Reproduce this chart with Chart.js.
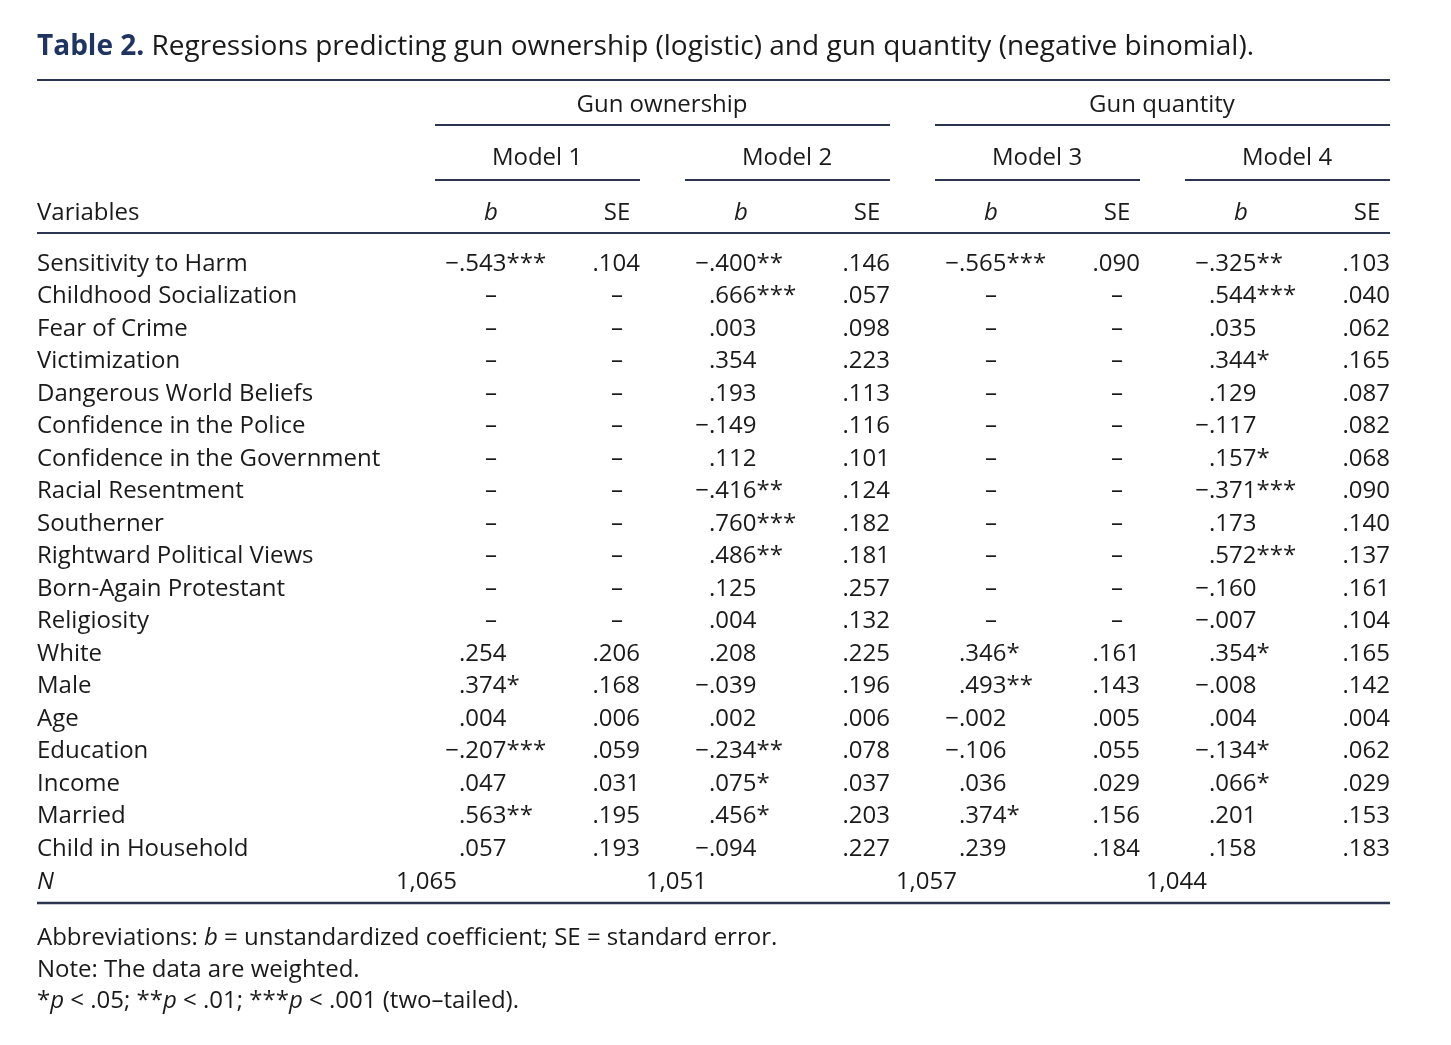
<!DOCTYPE html>
<html><head><meta charset="utf-8">
<script src="https://cdn.jsdelivr.net/npm/chart.js@4"></script>
<style>body{margin:0;background:#fff}canvas{display:block}</style>
</head><body>
<canvas id="c" width="1451" height="1045"></canvas>
<script>
// Table data
var variables = ['Sensitivity to Harm','Childhood Socialization','Fear of Crime','Victimization','Dangerous World Beliefs','Confidence in the Police','Confidence in the Government','Racial Resentment','Southerner','Rightward Political Views','Born-Again Protestant','Religiosity','White','Male','Age','Education','Income','Married','Child in Household'];
var m1b  = ['−.543***','–','–','–','–','–','–','–','–','–','–','–','.254','.374*','.004','−.207***','.047','.563**','.057'];
var m1se = ['.104','–','–','–','–','–','–','–','–','–','–','–','.206','.168','.006','.059','.031','.195','.193'];
var m2b  = ['−.400**','.666***','.003','.354','.193','−.149','.112','−.416**','.760***','.486**','.125','.004','.208','−.039','.002','−.234**','.075*','.456*','−.094'];
var m2se = ['.146','.057','.098','.223','.113','.116','.101','.124','.182','.181','.257','.132','.225','.196','.006','.078','.037','.203','.227'];
var m3b  = ['−.565***','–','–','–','–','–','–','–','–','–','–','–','.346*','.493**','−.002','−.106','.036','.374*','.239'];
var m3se = ['.090','–','–','–','–','–','–','–','–','–','–','–','.161','.143','.005','.055','.029','.156','.184'];
var m4b  = ['−.325**','.544***','.035','.344*','.129','−.117','.157*','−.371***','.173','.572***','−.160','−.007','.354*','−.008','.004','−.134*','.066*','.201','.158'];
var m4se = ['.103','.040','.062','.165','.087','.082','.068','.090','.140','.137','.161','.104','.165','.142','.004','.062','.029','.153','.183'];
var nValues = ['1,065','1,051','1,057','1,044'];
var modelNames = ['Model 1','Model 2','Model 3','Model 4'];
var groupNames = ['Gun ownership','Gun quantity'];

var FONT = '"Open Sans", "Noto Sans", sans-serif';
var INK = '#1a1a1a', RULE = '#2b3450';

var tablePlugin = {
  id: 'table',
  afterDraw: function(chart){
    var c = chart.ctx, xs = chart.scales.x, ys = chart.scales.y;
    var X = function(v){ return xs.getPixelForValue(v); };
    var Y = function(v){ return ys.getPixelForValue(v); };
    function font(sz, st){ c.font = (st || '') + ' ' + sz + 'px ' + FONT; }
    function txt(s, x, y, align){ c.textAlign = align || 'left'; c.fillText(s, X(x), Y(y)); }
    function rule(x1, x2, y, w){ c.strokeStyle = RULE; c.lineWidth = w || 2; c.beginPath(); c.moveTo(X(x1), Y(y)); c.lineTo(X(x2), Y(y)); c.stroke(); }
    // segments of mixed style on one line
    function segs(list, x, y){ var cx = X(x); c.textAlign = 'left';
      list.forEach(function(s){ font(24, s[1]); c.fillText(s[0], cx, Y(y)); cx += c.measureText(s[0]).width; }); }
    // number aligned on its decimal point
    function dec(s, dx, y){
      font(24);
      if (s === '–'){ c.textAlign = 'center'; c.fillText('–', X(dx), Y(y)); return; }
      var i = s.indexOf('.'), pre = s.slice(0, i);
      c.textAlign = 'left';
      c.fillText(s, X(dx) - c.measureText(pre).width, Y(y));
    }
    c.save();
    c.fillStyle = INK; c.textBaseline = 'middle';
    // title
    font(28, 'bold'); c.fillStyle = '#1f3560'; txt('Table 2.', 37, 47);
    var tw = c.measureText('Table 2. ').width;
    font(28); c.fillStyle = INK; c.textAlign = 'left';
    c.fillText('Regressions predicting gun ownership (logistic) and gun quantity (negative binomial).', X(37) + tw, Y(47));

    rule(37, 1390, 80);
    font(24);
    groupNames.forEach(function(g, i){ txt(g, 662 + i * 500, 105, 'center'); rule(435 + i * 500, 890 + i * 500, 125); });
    modelNames.forEach(function(m, i){ txt(m, 537 + i * 250, 158, 'center'); rule(435 + i * 250, 640 + i * 250, 180); });
    txt('Variables', 37, 213);
    for (var k = 0; k < 4; k++){
      font(24, 'italic'); txt('b', 491 + k * 250, 213, 'center');
      font(24); txt('SE', 617 + k * 250, 213, 'center');
    }
    rule(37, 1390, 233);

    var cols = [[m1b, m1se], [m2b, m2se], [m3b, m3se], [m4b, m4se]];
    variables.forEach(function(v, r){
      var y = 264 + r * 32.5;
      font(24); txt(v, 37, y);
      cols.forEach(function(col, k){
        var bv = col[0][r], sv = col[1][r];
        if (bv === '–'){ font(24); txt('–', 491 + k * 250, y, 'center'); }
        else dec(bv, 459 + k * 250, y);
        font(24);
        if (sv === '–') txt('–', 617 + k * 250, y, 'center');
        else txt(sv, 640 + k * 250, y, 'right');
      });
    });
    font(24, 'italic'); txt('N', 37, 882);
    font(24); nValues.forEach(function(n, k){ txt(n, 457 + k * 250, 882, 'right'); });
    rule(37, 1390, 903, 2.5);

    segs([['Abbreviations: ', ''], ['b', 'italic'], [' = unstandardized coefficient; SE = standard error.', '']], 37, 938);
    segs([['Note: The data are weighted.', '']], 37, 970);
    segs([['*', ''], ['p', 'italic'], [' < .05; **', ''], ['p', 'italic'], [' < .01; ***', ''], ['p', 'italic'], [' < .001 (two–tailed).', '']], 37, 1001);
    c.restore();
  }
};

new Chart(document.getElementById('c').getContext('2d'), {
  type: 'scatter',
  data: { datasets: [] },
  options: {
    responsive: false, animation: false,
    layout: { padding: 0 },
    plugins: { legend: { display: false }, tooltip: { enabled: false } },
    scales: {
      x: { type: 'linear', min: 0, max: 1451, display: false },
      y: { type: 'linear', min: 0, max: 1045, reverse: true, display: false }
    }
  },
  plugins: [tablePlugin]
});
</script>
</body></html>
